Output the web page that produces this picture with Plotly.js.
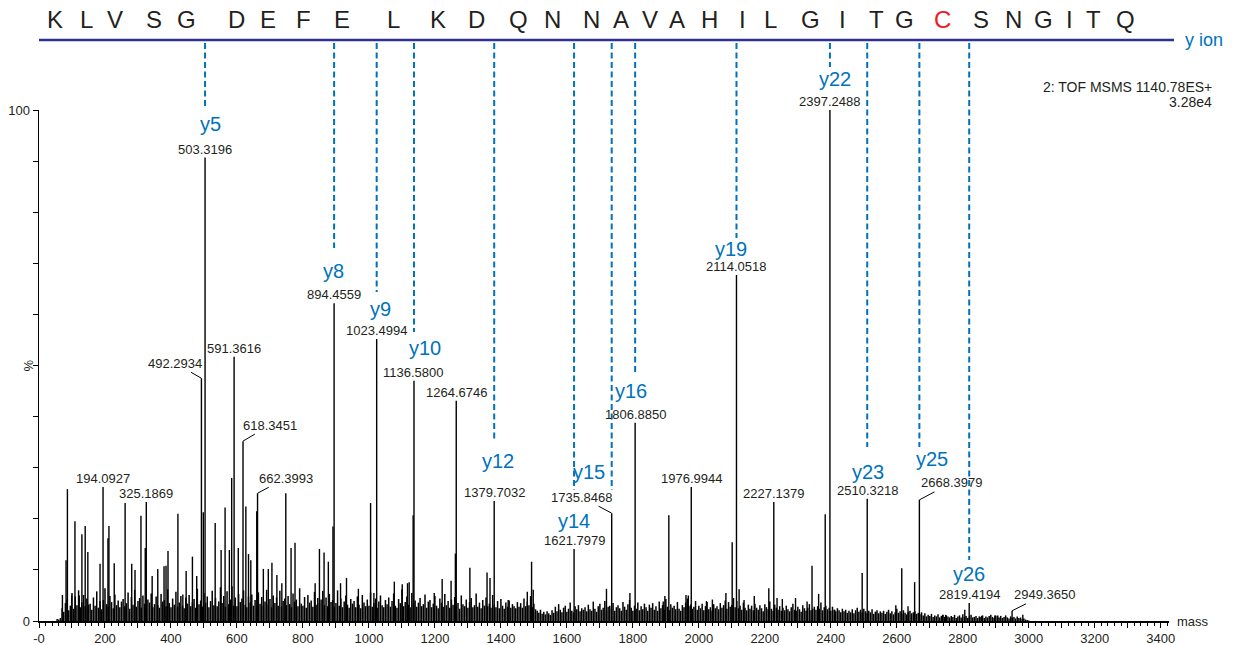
<!DOCTYPE html>
<html>
<head>
<meta charset="utf-8">
<script src="https://cdn.plot.ly/plotly-3.0.1.min.js"></script>
<style>
  html, body { margin: 0; padding: 0; background: #ffffff; }
  #chart { width: 1233px; height: 645px; }
</style>
</head>
<body>
<div id="chart"></div>
<script>
// ---------------------------------------------------------------
// Peptide sequence shown above the spectrum
// ---------------------------------------------------------------
const sequence = ['K','L','V','S','G','D','E','F','E','L','K','D','Q','N','N',
                  'A','V','A','H','I','L','G','I','T','G','C','S','N','G','I','T','Q'];
const modifiedResidue = 25;   // the cysteine

// ---------------------------------------------------------------
// Centroided fragment peaks (m/z, relative intensity %)
// ---------------------------------------------------------------
const peakMass = [
  71, 82, 86.1, 99, 109, 122, 130, 140, 148, 185, 194.0927, 209, 212, 228, 261,
  281, 291, 309, 322, 325.1869, 343, 360, 379, 385, 391, 421, 436, 446, 465, 478,
  492.2934, 498, 503.3196, 534, 552, 564, 577, 584, 591.3616, 604, 618.3451, 627,
  635, 642, 660, 662.3993, 680, 695, 706, 721, 736, 748, 764, 776, 837, 850, 864,
  877, 891, 894.4559, 914, 932, 968, 1005, 1015, 1023.4994, 1077, 1101, 1117, 1122,
  1134, 1136.58, 1198, 1222, 1249, 1262, 1264.6746, 1306, 1358, 1367, 1379.7032,
  1422, 1480, 1493, 1498, 1621.7979, 1720, 1735.8468, 1791, 1806.885, 1892, 1897,
  1909, 1961, 1968, 1976.9944, 2023, 2041, 2082, 2101, 2114.0518, 2122, 2137, 2168,
  2212, 2227.1379, 2237, 2253, 2293, 2328, 2343, 2363, 2383, 2397.2488, 2412, 2495,
  2510.3218, 2536, 2597, 2615, 2634, 2654, 2668.3979, 2739, 2748, 2806, 2819.4194,
  2857, 2897, 2906, 2949.365, 2982
];
const peakIntensity = [
  5.1, 11.9, 25.8, 5.0, 19.5, 5.0, 17.0, 18.6, 13.5, 11.2, 26.2, 16.2, 18.6, 11.3, 23.1,
  11.2, 10.0, 20.6, 14.3, 23.3, 8.8, 10.2, 10.7, 10.8, 13.7, 21.0, 5.2, 9.8, 12.6, 8.8,
  47.5, 21.3, 90.7, 19.2, 13.9, 22.2, 13.9, 28.0, 51.7, 14.3, 35.2, 22.4,
  13.1, 11.9, 21.5, 25.0, 10.2, 10.2, 11.4, 9.0, 7.4, 25.0, 14.3, 15.3, 7.4, 14.1, 13.4,
  11.6, 18.5, 62.2, 7.4, 8.4, 6.3, 23.1, 5.5, 55.2, 7.7, 7.2, 7.4, 7.6,
  20.7, 47.0, 5.5, 8.2, 7.9, 13.2, 43.1, 10.4, 9.5, 8.4, 23.5,
  4.1, 5.7, 11.6, 6.1, 14.1, 6.3, 21.1, 5.5, 38.8, 3.8, 4.9,
  20.7, 5.1, 5.0, 26.2, 3.9, 4.2, 5.5, 15.4, 67.7, 6.2, 4.1, 4.9,
  6.4, 23.3, 4.5, 4.3, 4.5, 3.8, 10.8, 5.3, 20.9, 100, 2.2, 9.4,
  23.9, 1.8, 3.1, 10.3, 2.9, 7.6, 23.7, 1.2, 1.2, 2.2, 3.5,
  1.0, 1.1, 1.1, 2.0, 1.2
];

// ---------------------------------------------------------------
// Baseline noise profile, sampled every 5 m/z from 55 m/z
// (one row = 100 m/z)
// ---------------------------------------------------------------
const noiseStart = 55;
const noiseStep = 5;
const noiseIntensity = [
  0.4,0.3,0.6,2.5,1.8,3.5,4.2,2.1,3.0,5.5,2.4,4.8,3.1,6.0,2.7,3.6,5.1,2.9,4.4,3.2,
  3.4,2.2,4.6,3.0,5.8,2.6,3.9,2.3,4.1,6.4,3.3,2.8,4.9,3.7,2.5,5.2,3.1,4.0,2.7,3.8,
  4.3,2.9,3.5,5.6,2.4,4.7,3.2,6.1,2.8,3.9,4.5,2.6,5.0,3.4,2.9,4.2,3.6,5.4,2.7,3.3,
  4.8,3.1,2.6,5.3,3.8,4.1,2.9,6.2,3.5,2.7,4.4,3.2,5.7,2.8,3.6,4.9,3.0,2.5,4.6,3.4,
  5.1,2.9,3.7,4.3,2.6,6.3,3.3,4.0,2.8,5.5,3.6,4.8,2.7,3.9,5.9,3.1,4.5,2.9,3.8,6.6,
  3.5,4.9,2.8,5.8,3.3,4.2,6.8,3.0,4.6,2.9,5.3,3.7,4.4,6.0,3.2,2.7,4.8,3.6,5.2,3.0,
  4.1,2.8,5.6,3.4,4.7,2.9,3.8,6.1,3.2,4.3,2.7,5.0,3.5,4.6,3.0,5.9,2.8,3.9,4.4,3.1,
  4.9,3.3,2.7,5.4,3.8,4.2,2.9,6.4,3.4,3.0,4.7,2.6,5.1,3.6,4.0,2.8,5.7,3.2,4.5,3.5,
  4.2,5.9,3.1,4.6,2.9,5.3,3.7,4.1,2.8,3.5,6.0,3.0,4.4,2.7,3.8,5.0,3.2,2.6,4.3,3.4,
  3.9,2.7,4.8,3.2,2.5,5.1,3.6,2.9,4.2,3.0,5.6,2.8,3.5,4.4,2.6,3.8,5.0,3.1,2.7,4.1,
  3.3,4.6,2.8,3.9,5.4,3.0,2.6,4.3,3.5,6.2,2.9,3.7,4.8,3.2,2.7,5.5,3.4,4.0,2.8,3.6,
  4.5,2.9,3.3,5.2,2.6,3.8,4.1,2.7,3.4,4.9,3.0,2.5,4.4,3.6,2.8,5.3,3.1,3.9,2.6,4.2,
  3.2,4.7,2.8,3.5,2.4,5.0,3.3,2.9,4.2,2.6,3.7,4.5,2.7,3.1,5.4,2.8,3.6,2.5,4.1,3.0,
  4.6,2.9,3.4,2.6,5.1,3.2,2.7,3.9,2.5,4.3,3.0,2.4,3.6,2.8,4.0,2.6,3.3,2.9,2.5,3.7,
  2.8,3.5,2.6,4.4,2.9,3.8,3.1,4.9,2.7,3.4,2.3,2.0,1.6,2.2,1.4,1.8,1.3,1.9,1.5,1.2,
  2.1,1.6,2.8,1.9,3.3,2.2,1.7,2.6,3.0,1.8,2.4,3.6,2.0,1.7,2.9,2.3,3.1,1.9,2.5,2.2,
  2.7,1.9,3.2,2.3,2.0,3.8,2.4,1.8,2.9,3.4,2.2,2.6,3.9,2.1,2.8,3.0,2.4,3.5,2.0,2.7,
  3.1,2.5,2.0,3.7,2.8,2.2,3.3,4.1,2.6,2.0,3.0,2.4,3.6,2.1,2.9,2.3,3.4,2.7,2.0,3.2,
  2.6,3.5,2.2,2.9,2.0,3.8,2.5,3.1,2.2,4.3,2.8,2.1,3.3,2.6,3.0,2.3,3.7,2.4,2.0,3.1,
  2.7,3.6,4.4,2.9,3.2,2.4,2.8,3.9,2.2,3.0,2.5,3.4,2.1,2.9,3.7,2.3,2.7,2.0,3.3,2.5,
  2.9,2.3,3.5,2.6,3.1,4.0,2.4,3.7,2.8,3.2,4.5,2.7,3.9,2.5,3.0,2.2,3.6,2.6,2.1,3.2,
  2.4,3.0,2.1,3.4,2.6,2.2,3.1,2.5,1.9,3.3,2.7,2.3,3.8,2.4,2.0,3.2,2.6,2.2,2.9,2.0,
  2.6,2.1,3.0,2.3,1.9,2.7,3.4,2.2,2.0,2.8,2.3,1.8,3.1,2.5,2.0,2.6,3.3,2.1,2.4,2.8,
  2.2,2.9,2.4,3.6,2.1,2.7,3.0,2.3,2.6,2.0,2.8,2.2,1.9,2.5,2.1,1.7,2.4,1.9,2.2,1.6,
  2.0,1.7,2.3,1.5,2.1,2.6,1.8,2.2,1.6,2.4,1.9,1.5,2.0,1.7,2.3,1.4,1.8,2.1,1.5,1.9,
  1.6,2.0,1.4,1.8,2.2,1.5,1.9,1.3,1.7,2.4,1.6,1.9,1.4,2.1,1.6,1.3,1.8,2.0,1.5,1.7,
  1.9,1.4,1.6,1.3,1.7,1.1,1.5,0.9,1.2,1.0,1.4,0.8,1.1,0.9,1.3,0.7,1.0,1.2,0.8,1.1,
  0.9,0.7,1.0,0.8,1.2,0.6,0.9,1.1,0.7,1.3,0.8,1.0,0.6,0.9,1.2,0.7,0.8,1.0,0.6,0.9,
  0.8,1.1,0.6,0.9,0.7,1.0,1.2,0.8,0.6,1.1,0.9,0.7,1.0,0.6,0.8,1.1,0.7,0.5,0.9,0.6,
  0.8,0.5,0.9,0.6,0.7,0.4,0.5,0.3,0.2,0.1
];

// Peaks annotated with their m/z
const labelledMass = [
  194.0927, 325.1869, 492.2934, 503.3196, 591.3616, 618.3451, 662.3993, 894.4559,
  1023.4994, 1136.58, 1264.6746, 1379.7032, 1621.7979, 1735.8468, 1806.885,
  1976.9944, 2114.0518, 2227.1379, 2397.2488, 2510.3218, 2668.3979, 2819.4194, 2949.365
];

// y-ion assignments
const ionNames = ['y5','y8','y9','y10','y12','y14','y15','y16','y19','y22','y23','y25','y26'];
const ionMass  = [503.3196, 894.4559, 1023.4994, 1136.58, 1379.7032, 1621.7979, 1735.8468,
                  1806.885, 2114.0518, 2397.2488, 2510.3218, 2668.3979, 2819.4194];

// Axis ticks
const xTickVals = [];
const xTickText = [];
for (let v = 0; v <= 3400; v += 100) {
  xTickVals.push(v);
  xTickText.push(v === 0 ? '-0' : (v % 200 === 0 ? String(v) : ''));
}
const yTickVals = [0,10,20,30,40,50,60,70,80,90,100];
const yTickText = ['0','','','','','','','','','','100'];

// ---------------------------------------------------------------
// Page geometry (pixels) and placement of the text decorations
// ---------------------------------------------------------------
const W = 1233, H = 645;
const M = { l: 39, r: 64, t: 110, b: 24 };
const plotW = W - M.l - M.r, plotH = H - M.t - M.b;
const px2paperX = px => (px - M.l) / plotW;
const py2paperY = py => (H - M.b - py) / plotH;

const seqLetterX = [55,86,115,154,186,236,268,303,342,393,438,476,518,552,591,
                    621,650,677,709,742,770,810,842,876,904,942,981,1013,1043,1069,1093,1125];
const seqLineY = 40, seqTextY = 20, seqLineEnd = 1174;

// per-ion placement: horizontal label shift, dashed line end, label centre (pixels)
const ionPlacement = {
  y5:  { dx: 5,   dashEnd: 106, labelY: 124 },
  y8:  { dx: -1,  dashEnd: 248, labelY: 271 },
  y9:  { dx: 4,   dashEnd: 292, labelY: 309 },
  y10: { dx: 11,  dashEnd: 332, labelY: 348 },
  y12: { dx: 4,   dashEnd: 440, labelY: 461 },
  y14: { dx: 0,   dashEnd: 490, labelY: 521 },
  y15: { dx: -23, dashEnd: 490, labelY: 472 },
  y16: { dx: -4,  dashEnd: 375, labelY: 391 },
  y19: { dx: -5,  dashEnd: 238, labelY: 249 },
  y22: { dx: 5,   dashEnd: 67,  labelY: 79 },
  y23: { dx: 1,   dashEnd: 447, labelY: 472 },
  y25: { dx: 13,  dashEnd: 447, labelY: 459 },
  y26: { dx: 0,   dashEnd: 560, labelY: 574 }
};

// labels moved aside with a short leader line: [ax, ay] in pixels
const leaderOffset = {
  '492.2934':  [-26, -15],
  '618.3451':  [27, -16],
  '662.3993':  [28, -15],
  '1735.8468': [-30, -16],
  '2668.3979': [32, -17],
  '2949.3650': [32, -16]
};

const INK = '#231f20';
const ION_BLUE = '#0072bc';
const SEQ_NAVY = '#2e3192';
const FONT = 'Liberation Sans, Arial, Helvetica, sans-serif';

// ---------------------------------------------------------------
// Build stick traces
// ---------------------------------------------------------------
function sticks(masses, values) {
  const x = [], y = [];
  masses.forEach((m, i) => { x.push(m, m, null); y.push(0, values[i], null); });
  return { x, y };
}
const noiseMass = noiseIntensity.map((_, i) => noiseStart + i * noiseStep);
const noiseSticks = sticks(noiseMass, noiseIntensity);
const peakSticks = sticks(peakMass, peakIntensity);

const traces = [
  { type: 'scatter', mode: 'lines', x: noiseSticks.x, y: noiseSticks.y,
    line: { color: '#000', width: 1.5 }, hoverinfo: 'skip', connectgaps: false },
  { type: 'scatter', mode: 'lines', x: peakSticks.x, y: peakSticks.y,
    line: { color: '#000', width: 1.4 }, hoverinfo: 'skip', connectgaps: false }
];

// ---------------------------------------------------------------
// Shapes and annotations
// ---------------------------------------------------------------
const shapes = [];
const annotations = [];

// sequence bar
shapes.push({ type: 'line', xref: 'paper', yref: 'paper',
  x0: 0, x1: px2paperX(seqLineEnd), y0: py2paperY(seqLineY), y1: py2paperY(seqLineY),
  line: { color: SEQ_NAVY, width: 2.5 } });

sequence.forEach((aa, i) => {
  annotations.push({ xref: 'paper', yref: 'paper', x: px2paperX(seqLetterX[i]), y: py2paperY(seqTextY),
    xanchor: 'center', yanchor: 'middle', showarrow: false, text: aa,
    font: { family: FONT, size: 24, color: i === modifiedResidue ? '#ed1c24' : INK } });
});
annotations.push({ xref: 'paper', yref: 'paper', x: px2paperX(1183), y: py2paperY(seqLineY),
  xanchor: 'left', yanchor: 'middle', showarrow: false, text: 'y ion',
  font: { family: FONT, size: 18, color: ION_BLUE } });

// ion assignment lines and labels
ionNames.forEach((name, i) => {
  const p = ionPlacement[name];
  shapes.push({ type: 'line', xref: 'x', yref: 'paper',
    x0: ionMass[i], x1: ionMass[i], y0: py2paperY(seqLineY + 3), y1: py2paperY(p.dashEnd),
    line: { color: ION_BLUE, width: 2, dash: '6px,3.5px' } });
  annotations.push({ xref: 'x', yref: 'paper', x: ionMass[i], xshift: p.dx, y: py2paperY(p.labelY),
    xanchor: 'center', yanchor: 'middle', showarrow: false, text: name,
    font: { family: FONT, size: 20, color: ION_BLUE } });
});

// m/z labels on peaks
labelledMass.forEach(m => {
  const idx = peakMass.indexOf(m);
  const inten = peakIntensity[idx];
  const text = m.toFixed(4);
  const off = leaderOffset[text];
  const base = { xref: 'x', yref: 'y', x: m, y: inten, text: text,
    font: { family: FONT, size: 13, color: INK } };
  if (off) {
    annotations.push(Object.assign(base, { showarrow: true, arrowhead: 0, arrowwidth: 1,
      arrowcolor: '#000', ax: off[0], ay: off[1], standoff: 0, startstandoff: 0 }));
  } else {
    annotations.push(Object.assign(base, { showarrow: false, xanchor: 'center', yanchor: 'bottom', yshift: -1 }));
  }
});

// instrument / scan information
annotations.push({ xref: 'paper', yref: 'paper', x: px2paperX(1214), y: py2paperY(87),
  xanchor: 'right', yanchor: 'middle', showarrow: false, text: '2: TOF MSMS 1140.78ES+',
  font: { family: FONT, size: 14, color: INK } });
annotations.push({ xref: 'paper', yref: 'paper', x: px2paperX(1214), y: py2paperY(102),
  xanchor: 'right', yanchor: 'middle', showarrow: false, text: '3.28e4',
  font: { family: FONT, size: 14, color: INK } });

// axis captions
annotations.push({ xref: 'paper', yref: 'paper', x: px2paperX(1175), y: 0,
  xanchor: 'left', yanchor: 'middle', showarrow: false, text: 'mass',
  font: { family: FONT, size: 13, color: INK } });
annotations.push({ xref: 'paper', yref: 'y', x: px2paperX(28), y: 50,
  xanchor: 'center', yanchor: 'middle', showarrow: false, text: '%', textangle: -90,
  font: { family: FONT, size: 13, color: INK } });

const layout = {
  width: W, height: H,
  margin: { l: M.l, r: M.r, t: M.t, b: M.b, pad: 0 },
  paper_bgcolor: '#ffffff', plot_bgcolor: '#ffffff',
  showlegend: false,
  font: { family: FONT, size: 13, color: INK },
  xaxis: {
    range: [0, 3425], showgrid: false, zeroline: false,
    showline: true, linecolor: '#000', linewidth: 1.5,
    ticks: 'outside', ticklen: 5, tickwidth: 1, tickcolor: '#000',
    tickmode: 'array', tickvals: xTickVals, ticktext: xTickText,
    tickfont: { family: FONT, size: 13, color: INK },
    minor: { ticks: 'outside', ticklen: 3, tickwidth: 1, tickcolor: '#000',
             tickmode: 'linear', tick0: 0, dtick: 20, showgrid: false },
    fixedrange: true
  },
  yaxis: {
    range: [0, 100], showgrid: false, zeroline: false,
    showline: true, linecolor: '#000', linewidth: 1.5,
    ticks: 'outside', ticklen: 5, tickwidth: 1, tickcolor: '#000',
    tickmode: 'array', tickvals: yTickVals, ticktext: yTickText,
    tickfont: { family: FONT, size: 13, color: INK },
    fixedrange: true
  },
  shapes: shapes,
  annotations: annotations
};

Plotly.newPlot('chart', traces, layout, { displayModeBar: false, staticPlot: true });
</script>
</body>
</html>
